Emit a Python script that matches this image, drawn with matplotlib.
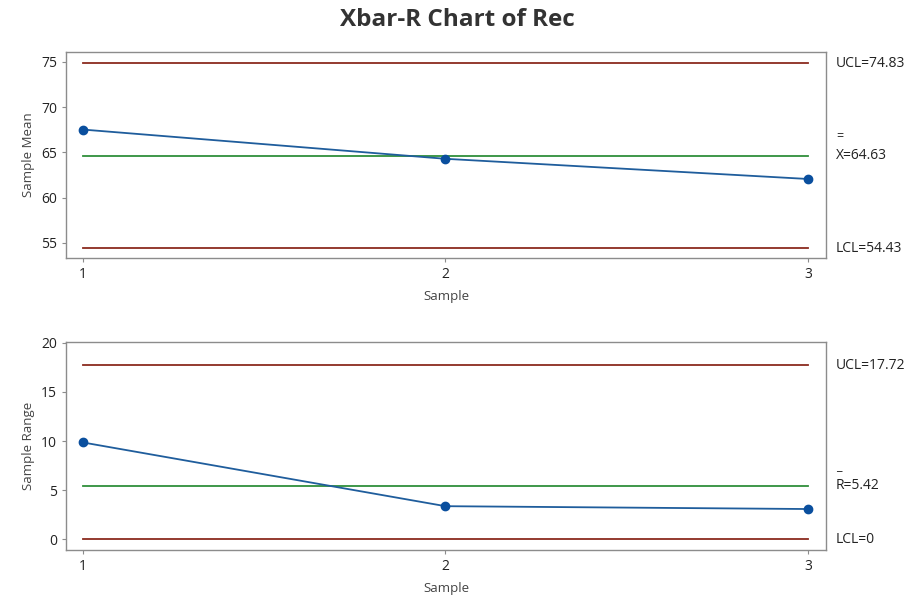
import matplotlib.pyplot as plt

plt.rcParams['font.family'] = ['Open Sans', 'DejaVu Sans']

# subgroup statistics
samples = [1, 2, 3]
means = [67.53, 64.30, 62.07]
ranges = [9.85, 3.35, 3.06]

xbar_ucl, xbar_cl, xbar_lcl = 74.83, 64.63, 54.43
r_ucl, r_cl, r_lcl = 17.72, 5.42, 0.0

red = '#8b2b1f'
green = '#2f8f3a'
blue = '#1f5d9c'
spine = '#8c8c8c'
txt = '#222222'


def draw_panel(ax, vals, ucl, cl, lcl, cl_name, ylabel, yticks, ylim, fmt):
    ax.plot(samples, [ucl] * 3, color=red, lw=1.3)
    ax.plot(samples, [lcl] * 3, color=red, lw=1.3)
    ax.plot(samples, [cl] * 3, color=green, lw=1.3)
    ax.plot(samples, vals, color=blue, lw=1.3, marker='o', ms=6,
            mfc='#0a4f9e', mec='#0a4f9e')
    ax.set_xlim(0.953, 3.05)
    ax.set_ylim(*ylim)
    ax.set_xticks(samples)
    ax.set_yticks(yticks)
    ax.tick_params(axis='both', labelsize=10, colors=txt, direction='out',
                   length=3, color=spine)
    for s in ax.spines.values():
        s.set_color(spine)
        s.set_linewidth(1)
    ax.set_xlabel('Sample', fontsize=9.5, color='#444444', labelpad=6)
    ax.set_ylabel(ylabel, fontsize=9.5, color='#444444', labelpad=4)

    tx = 1.013
    ax.text(tx, ucl, 'UCL=' + fmt(ucl), transform=ax.get_yaxis_transform(),
            va='center', ha='left', fontsize=10, color=txt)
    ax.text(tx, lcl, 'LCL=' + fmt(lcl), transform=ax.get_yaxis_transform(),
            va='center', ha='left', fontsize=10, color=txt)
    ax.text(tx, cl, cl_name + '=' + fmt(cl), transform=ax.get_yaxis_transform(),
            va='center', ha='left', fontsize=10, color=txt)
    bar = '=' if cl_name == 'X' else '_'
    off = 14 if cl_name == 'X' else 14
    ax.annotate(bar, xy=(tx, cl), xycoords=ax.get_yaxis_transform(),
                xytext=(0, off), textcoords='offset points',
                va='center', ha='left', fontsize=9, color=txt)


fig = plt.figure(figsize=(9.13, 6.03), dpi=100)
ax1 = fig.add_axes([66 / 913, 1 - 258 / 603, 760 / 913, 206 / 603])
ax2 = fig.add_axes([66 / 913, 1 - 550 / 603, 760 / 913, 208 / 603])

draw_panel(ax1, means, xbar_ucl, xbar_cl, xbar_lcl, 'X', 'Sample Mean',
           [55, 60, 65, 70, 75], (53.34, 76.1), lambda v: f'{v:.2f}')
draw_panel(ax2, ranges, r_ucl, r_cl, r_lcl, 'R', 'Sample Range',
           [0, 5, 10, 15, 20], (-1.12, 20.1),
           lambda v: '0' if v == 0 else f'{v:.2f}')

fig.text(457 / 913, 1 - 20 / 603, 'Xbar-R Chart of Rec', ha='center',
         va='center', fontsize=17.5, fontweight='bold', color='#333333')

fig.savefig('out.png', dpi=100)
